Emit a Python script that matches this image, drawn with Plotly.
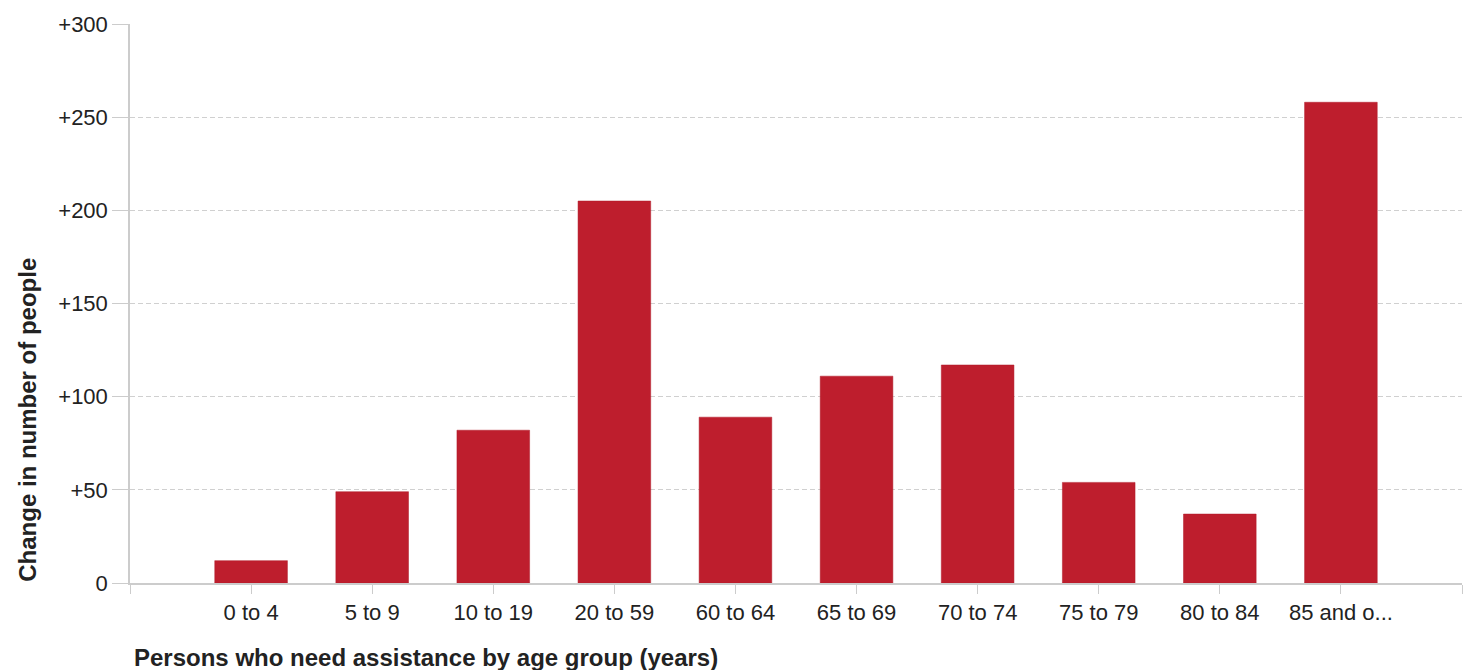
import plotly.graph_objects as go

categories = ["0 to 4", "5 to 9", "10 to 19", "20 to 59", "60 to 64",
              "65 to 69", "70 to 74", "75 to 79", "80 to 84", "85 and o..."]
values = [12, 49, 82, 205, 89, 111, 117, 54, 37, 258]
y_tickvals = [0, 50, 100, 150, 200, 250, 300]
y_ticktext = ["0", "+50", "+100", "+150", "+200", "+250", "+300"]
x_title = "Persons who need assistance by age group (years)"
y_title = "Change in number of people"

positions = list(range(len(categories)))
x_tickvals = [-1] + positions + [len(categories)]
x_ticktext = [""] + categories + [""]

FONT = "Liberation Sans, Arial, sans-serif"
AXIS_GRAY = "#cccccc"
TEXT = "#222222"

fig = go.Figure(
    go.Bar(
        x=positions,
        y=values,
        width=0.6,
        marker=dict(color="#be1e2d", line=dict(width=0.5, color="#b01a28")),
        hoverinfo="skip",
    )
)

fig.update_layout(
    width=1476,
    height=670,
    margin=dict(l=130, r=14, t=22, b=87),
    paper_bgcolor="white",
    plot_bgcolor="white",
    showlegend=False,
    font=dict(family=FONT, size=22, color=TEXT),
    xaxis=dict(
        range=[-1, len(categories)],
        tickmode="array",
        tickvals=x_tickvals,
        ticktext=x_ticktext,
        showgrid=False,
        zeroline=False,
        showline=True,
        linecolor=AXIS_GRAY,
        linewidth=1.5,
        ticks="outside",
        ticklen=9,
        tickcolor=AXIS_GRAY,
        tickwidth=1,
        tickfont=dict(family=FONT, size=22, color=TEXT),
        fixedrange=True,
    ),
    yaxis=dict(
        range=[0, 300],
        tickmode="array",
        tickvals=y_tickvals,
        ticktext=y_ticktext,
        showgrid=True,
        gridcolor="#d0d0d0",
        griddash="5px,3px",
        gridwidth=1,
        zeroline=False,
        showline=True,
        linecolor=AXIS_GRAY,
        linewidth=1.5,
        ticks="outside",
        ticklen=16,
        tickcolor=AXIS_GRAY,
        tickwidth=1,
        tickfont=dict(family=FONT, size=22, color=TEXT),
        fixedrange=True,
    ),
    annotations=[
        dict(
            text="<b>" + x_title + "</b>",
            xref="paper", yref="paper",
            x=0.0015, y=-0.1325,
            xanchor="left", yanchor="middle",
            showarrow=False,
            font=dict(family=FONT, size=24, color=TEXT),
        ),
        dict(
            text="<b>" + y_title + "</b>",
            xref="paper", yref="paper",
            x=-0.0766, y=0.292,
            xanchor="center", yanchor="middle",
            textangle=-90,
            showarrow=False,
            font=dict(family=FONT, size=24, color=TEXT),
        ),
    ],
)

fig.write_html(
    "out.html",
    config={"displayModeBar": False},
    post_script="document.body.style.margin='0';",
)
